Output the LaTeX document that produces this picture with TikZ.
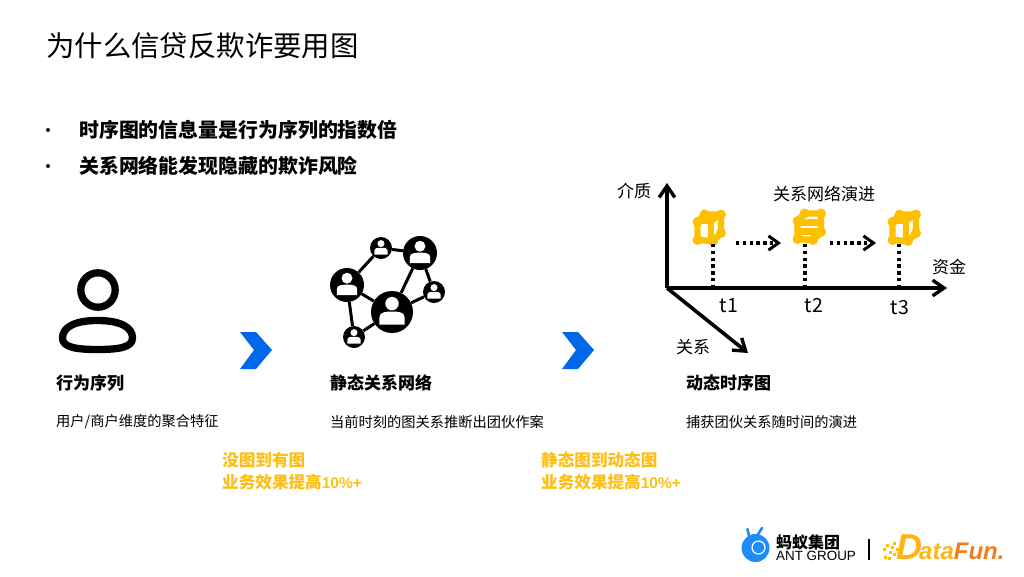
\documentclass[tikz,border=0pt]{standalone}
\usepackage{fontspec}
\setmainfont{Noto Sans CJK SC}
\newfontfamily\logofont{Liberation Sans}
\usepackage{xcolor}
\usetikzlibrary{arrows.meta,positioning,calc}
\definecolor{antblue}{HTML}{0068E8}
\definecolor{cubeyellow}{HTML}{FFC000}
\definecolor{gaintext}{HTML}{FFBE14}
\definecolor{logoblue}{HTML}{1E8CF5}
\definecolor{funorange}{HTML}{F47B20}
\definecolor{funyellow}{HTML}{FFB414}
\tikzset{
  titletext/.style={anchor=west, inner sep=0pt, font=\fontsize{28.4}{34}\selectfont},
  bullettext/.style={anchor=west, inner sep=0pt, font=\fontsize{19.9}{24}\selectfont\bfseries},
  bulletdot/.style={circle, fill=black, inner sep=0pt, minimum size=4pt},
  headtext/.style={anchor=west, inner sep=0pt, font=\fontsize{17}{20}\selectfont\bfseries},
  bodytext/.style={anchor=west, inner sep=0pt, font=\fontsize{14.25}{17}\selectfont},
  gaintextbox/.style={anchor=north west, inner sep=0pt, align=left, text=gaintext, font=\fontsize{16.6}{22}\selectfont\bfseries},
  axislabel/.style={inner sep=0pt, font=\fontsize{17}{20}\selectfont},
  ticklabel/.style={inner sep=0pt, font=\fontsize{19.5}{22}\selectfont},
  axisarrow/.style={-{Straight Barb[length=4mm,width=5.5mm,line width=3.4pt]}, line width=3.6pt},
  dotarrow/.style={-{Straight Barb[length=3.5mm,width=5mm,line width=3pt]}, line width=3.4pt, dash pattern=on 3.4pt off 3.4pt},
  dotline/.style={line width=3.4pt, dash pattern=on 3.4pt off 3.4pt},
  chevron/.style={fill=antblue},
  netuser/.style={circle, fill=black, inner sep=0pt},
  netlink/.style={line width=3pt},
  cubeline/.style={draw=cubeyellow, line width=6.4pt, line join=round, line cap=round},
}
\newcommand{\nethuman}[1]{% #1 = radius of the node
  \fill[white] (0,-0.4*#1) circle[radius=0.32*#1];
  \fill[white] (-0.6*#1,0.6*#1) -- (-0.6*#1,0.25*#1) .. controls (-0.6*#1,0) and (-0.3*#1,-0.02*#1) .. (0,-0.02*#1)
    .. controls (0.3*#1,-0.02*#1) and (0.6*#1,0) .. (0.6*#1,0.25*#1) -- (0.6*#1,0.6*#1) -- cycle;
}
\newcommand{\cubedots}{%
  \foreach \px/\py in {697.5/222,704.5/214.5,721/214.5,721/233,713/241,697.5/240}{
    \fill[cubeyellow] (\px,\py) circle[radius=5];
  }
}
\begin{document}
\begin{tikzpicture}[x=1pt,y=-1pt]
\useasboundingbox (0,0) rectangle (1024,576);
\node[titletext] (title) at (46,46) {为什么信贷反欺诈要用图};
\node[bulletdot] (dotone) at (48,130) {};
\node[bulletdot] (dottwo) at (48,166) {};
\node[bullettext] (bulletone) at (79,130) {时序图的信息量是行为序列的指数倍};
\node[bullettext] (bullettwo) at (79,166) {关系网络能发现隐藏的欺诈风险};
% person icon
\draw[line width=7.3pt] (98,290) circle[radius=17.2];
\draw[line width=7.3pt] (97.5,320.5) .. controls (120,320.5) and (132.5,327) .. (132.5,338)
  .. controls (132.5,347) and (120,349.5) .. (97.5,349.5)
  .. controls (75,349.5) and (62.5,347) .. (62.5,338)
  .. controls (62.5,327) and (75,320.5) .. (97.5,320.5) -- cycle;
% network icon
\node[netuser,minimum size=22pt] (usertop) at (381,248) {};
\node[netuser,minimum size=34pt] (userright) at (420,253) {};
\node[netuser,minimum size=34pt] (userleft) at (347,285) {};
\node[netuser,minimum size=42pt] (usermain) at (392,312) {};
\node[netuser,minimum size=22pt] (usereast) at (434,292) {};
\node[netuser,minimum size=22pt] (userlow) at (354,337) {};
\foreach \name/\rad in {usertop/11,userright/17,userleft/17,usermain/21,usereast/11,userlow/11}{
  \begin{scope}[shift={(\name.center)}]
    \nethuman{\rad}
  \end{scope}
}
\draw[netlink] (userleft) -- (usertop);
\draw[netlink] (usertop) -- (userright);
\draw[netlink] (userright) -- (usermain);
\draw[netlink] (userright) -- (usereast);
\draw[netlink] (userleft) -- (usermain);
\draw[netlink] (userleft) -- (userlow);
\draw[netlink] (usermain) -- (userlow);
\draw[netlink] (usermain) -- (usereast);
% chevrons
\foreach \dx in {0,322}{
  \fill[chevron,xshift=\dx] (240,332) -- (256,332) -- (272,350) -- (256,369) -- (240,369) -- (254,350) -- cycle;
}
% axes
\coordinate (origin) at (667,288);
\coordinate (axisup) at (667,183);
\coordinate (axisright) at (947,288);
\coordinate (axisdiag) at (748,353);
\draw[axisarrow] (origin) -- (axisup);
\draw[axisarrow] (origin) -- (axisright);
\draw[axisarrow] (origin) -- (axisdiag);
\node[axislabel] (labmedia) at (634,190.5) {介质};
\node[axislabel] (labmoney) at (949,267) {资金};
\node[axislabel] (labrel) at (693,347) {关系};
\node[axislabel] (labevo) at (824,194) {关系网络演进};
\node[ticklabel] (labtone) at (729,306) {t1};
\node[ticklabel] (labttwo) at (814,306) {t2};
\node[ticklabel] (labtthree) at (900,308) {t3};
% time graphs
\foreach \dx in {0,195}{
  \begin{scope}[xshift=\dx]
    \draw[cubeline] (697.5,222) -- (704.5,214.5) -- (721,214.5) -- (721,233) -- (713,241) -- (697.5,240) -- cycle;
    \draw[cubeline] (697.5,220.5) -- (711,220.5) -- (711,240);
    \draw[cubeline] (711,220.5) -- (721,214.5);
    \cubedots
  \end{scope}
}
\begin{scope}[xshift=100,yshift=1]
  \draw[cubeline] (697.5,222) -- (704.5,214.5) -- (721,214.5) -- (721,233) -- (713,241) -- (697.5,240) -- cycle;
  \draw[cubeline] (697.5,223.5) -- (721,223.5);
  \draw[cubeline] (697.5,232.5) -- (721,232.5);
  \cubedots
\end{scope}
\coordinate (graphone) at (713,244);
\coordinate (graphtwo) at (805,244);
\coordinate (graphthree) at (899,244);
\draw[dotline] (graphone) -- (713,288);
\draw[dotline] (graphtwo) -- (805,288);
\draw[dotline] (graphthree) -- (899,288);
\coordinate (stepa) at (736,243);
\coordinate (stepb) at (781,243);
\coordinate (stepc) at (830,243);
\coordinate (stepd) at (876,243);
\draw[dotarrow] (stepa) -- (stepb);
\draw[dotarrow] (stepc) -- (stepd);
% columns
\node[headtext] (headone) at (56,383) {行为序列};
\node[headtext] (headtwo) at (330,383) {静态关系网络};
\node[headtext] (headthree) at (686,383) {动态时序图};
\node[bodytext] (bodyone) at (56,422) {用户/商户维度的聚合特征};
\node[bodytext] (bodytwo) at (330,422) {当前时刻的图关系推断出团伙作案};
\node[bodytext] (bodythree) at (686,422) {捕获团伙关系随时间的演进};
\node[gaintextbox] (gainone) at (222,452) {没图到有图\\业务效果提高{\logofont\fontsize{15.5}{22}\selectfont 10\%+}};
\node[gaintextbox] (gaintwo) at (541,452) {静态图到动态图\\业务效果提高{\logofont\fontsize{15.5}{22}\selectfont 10\%+}};
% logos
\draw[logoblue,line width=2.6pt,line cap=round] (747.5,529) -- (749.5,538);
\draw[logoblue,line width=2.6pt,line cap=round] (762,528) -- (757,536);
\fill[logoblue] (755.5,548) circle[radius=14];
\draw[white,line width=1.2pt] (758.5,547.5) circle[radius=6.5];
\node[anchor=west,inner sep=0pt,font=\fontsize{16}{18}\selectfont] (antcn) at (776,542) {\bfseries 蚂蚁集团};
\node[anchor=west,inner sep=0pt,font=\logofont\fontsize{13.4}{16}\selectfont] (anten) at (776,556) {ANT GROUP};
\draw[line width=1.2pt] (869,539) -- (869,560);
\foreach \px/\py in {883/548,886/544,889/551,891/546,884/556,888/557,893/542,893/553,896/548}{
  \fill[cubeyellow] (\px,\py) rectangle +(2.6,2.6);
}
\node[anchor=base west,inner sep=0pt,font=\logofont\fontsize{36}{40}\selectfont\bfseries\itshape,text=funyellow] (funletter) at (896,559) {D};
\node[anchor=base west,inner sep=0pt,font=\logofont\fontsize{24}{28}\selectfont\bfseries\itshape] (funtext) at (919,559)
  {\textcolor{funyellow}{ata}\textcolor{funorange}{Fun.}};
\end{tikzpicture}
\end{document}
